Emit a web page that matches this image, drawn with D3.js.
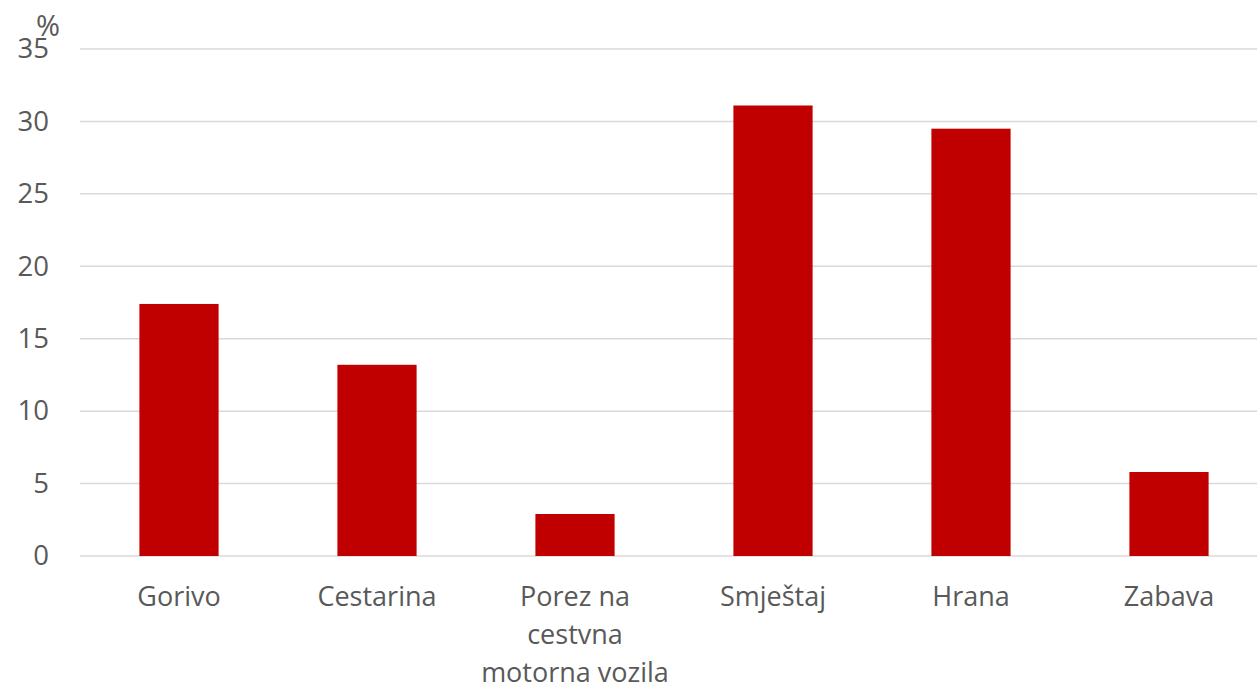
<!DOCTYPE html>
<html>
<head>
<meta charset="utf-8">
<script src="https://cdn.jsdelivr.net/npm/d3@7"></script>
<style>
  body { margin: 0; background: #fff; }
  svg { display: block; font-family: "Open Sans", sans-serif; }
</style>
</head>
<body>
<div id="chart"></div>
<script>
const categories = ["Gorivo", "Cestarina", "Porez na cestvna motorna vozila", "Smještaj", "Hrana", "Zabava"];
const categoryLines = [["Gorivo"], ["Cestarina"], ["Porez na", "cestvna", "motorna vozila"], ["Smještaj"], ["Hrana"], ["Zabava"]];
const values = [17.4, 13.2, 2.9, 31.1, 29.5, 5.8];
const yTicks = [0, 5, 10, 15, 20, 25, 30, 35];
const unitLabel = "%";

const width = 1257;
const height = 688;
const margin = {top: 49, right: -11, bottom: 132, left: 80};

const svg = d3.select("#chart").append("svg")
  .attr("width", width)
  .attr("height", height)
  .attr("viewBox", [0, 0, width, height]);

const x = d3.scaleBand()
  .domain(categories)
  .range([margin.left, width - margin.right])
  .paddingInner(0.6)
  .paddingOuter(0.3);

const y = d3.scaleLinear()
  .domain([0, 35])
  .range([height - margin.bottom, margin.top]);

// grid
svg.append("g")
  .selectAll("line")
  .data(yTicks)
  .join("line")
    .attr("x1", margin.left)
    .attr("x2", width - margin.right)
    .attr("y1", d => y(d))
    .attr("y2", d => y(d))
    .attr("stroke", "#d9d9d9")
    .attr("stroke-width", 1.5);

// y axis labels
const yAxis = g => g
  .attr("transform", `translate(49,0)`)
  .call(d3.axisLeft(y).tickValues(yTicks).tickSize(0).tickPadding(0))
  .call(g => g.select(".domain").remove())
  .call(g => g.selectAll("text")
    .attr("fill", "#595959")
    .attr("font-size", 27.5)
    .attr("font-family", "'Open Sans', sans-serif"));

svg.append("g").call(yAxis);

svg.append("text")
  .attr("x", 48)
  .attr("y", 36)
  .attr("text-anchor", "middle")
  .attr("fill", "#595959")
  .attr("font-size", 29)
  .text(unitLabel);

// bars
svg.append("g")
  .selectAll("rect")
  .data(values)
  .join("rect")
    .attr("x", (d, i) => x(categories[i]))
    .attr("width", x.bandwidth())
    .attr("y", d => y(d))
    .attr("height", d => y(0) - y(d))
    .attr("fill", "#c00000");

// x labels
svg.append("g")
  .selectAll("text")
  .data(categoryLines)
  .join("text")
    .attr("x", (d, i) => x(categories[i]) + x.bandwidth() / 2)
    .attr("y", 606)
    .attr("text-anchor", "middle")
    .attr("fill", "#595959")
    .attr("font-size", 27)
    .selectAll("tspan")
    .data((d, i) => d.map(t => ({t, i})))
    .join("tspan")
      .attr("x", d => x(categories[d.i]) + x.bandwidth() / 2)
      .attr("dy", (d, j) => j === 0 ? 0 : 38)
      .text(d => d.t);
</script>
</body>
</html>
